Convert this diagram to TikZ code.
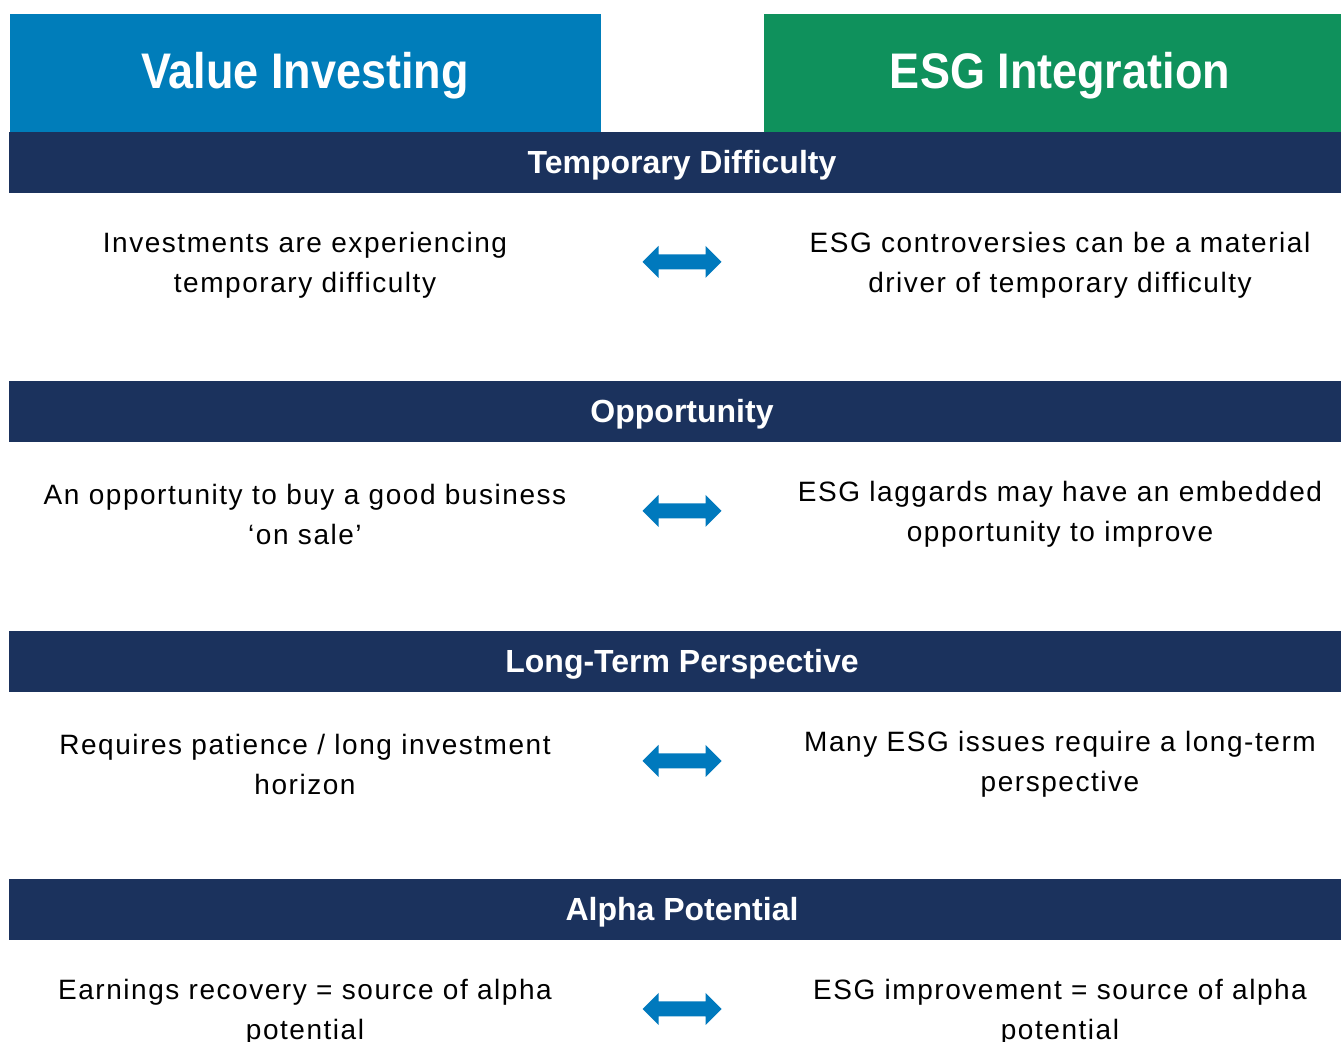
\documentclass[tikz,border=0pt]{standalone}
\usepackage{fontspec}
\setmainfont[LetterSpace=5.5]{Liberation Sans}
\newfontfamily\condfont[FakeStretch=0.9]{Liberation Sans}
\newfontfamily\barfont{Liberation Sans}
\usepackage{xcolor}

\definecolor{valueblue}{HTML}{007DBA}
\definecolor{esggreen}{HTML}{0F915C}
\definecolor{barnavy}{HTML}{1B325D}
\definecolor{arrowblue}{HTML}{0079BD}

\tikzset{
  headtext/.style={text=white, font=\condfont\bfseries\fontsize{25}{30}\selectfont},
  bartext/.style={text=white, font=\barfont\bfseries\fontsize{16}{19}\selectfont},
  bodytext/.style={align=center, font=\fontsize{14}{20}\selectfont},
  twoway/.pic={
    \fill[arrowblue] (-39.5,0) -- (-23.5,-16) -- (-23.5,-7.5) -- (23.5,-7.5)
      -- (23.5,-16) -- (39.5,0) -- (23.5,16) -- (23.5,7.5) -- (-23.5,7.5)
      -- (-23.5,16) -- cycle;
  }
}

\begin{document}
\begin{tikzpicture}[x=0.5pt,y=-0.5pt]
%% canvas
\fill[white] (0,0) rectangle (1341,1042);
\clip (0,0) rectangle (1341,1042);
%% top boxes
\fill[valueblue] (10,14) rectangle (601,132);
\fill[esggreen] (764,14) rectangle (1341,132);
\node[headtext] (value) at (305,76) {Value Investing};
\node[headtext] (esg) at (1060,76) {ESG Integration};
%% rows
\foreach \yb/\title/\lefttext/\righttext/\n in {
  132/{Temporary Difficulty}/{Investments are experiencing\\temporary difficulty}/{ESG controversies can be a material\\driver of temporary difficulty}/1,
  381/{Opportunity}/{An opportunity to buy a good business\\‘on sale’}/{ESG laggards may have an embedded\\opportunity to improve}/2,
  631/{Long-Term Perspective}/{Requires patience / long investment\\horizon}/{Many ESG issues require a long-term\\perspective}/3,
  879/{Alpha Potential}/{Earnings recovery = source of alpha\\potential}/{ESG improvement = source of alpha\\potential}/4}
{
  \fill[barnavy] (9,\yb) rectangle (1341,\yb+61);
  \node[bartext] (bar\n) at (682,\yb+33) {\title};
  \node[bodytext] (left\n) at (305,\yb+133) {\lefttext};
  \node[bodytext] (right\n) at (1060,\yb+133) {\righttext};
  \pic at (682,\yb+130) {twoway};
}
\end{tikzpicture}
\end{document}
